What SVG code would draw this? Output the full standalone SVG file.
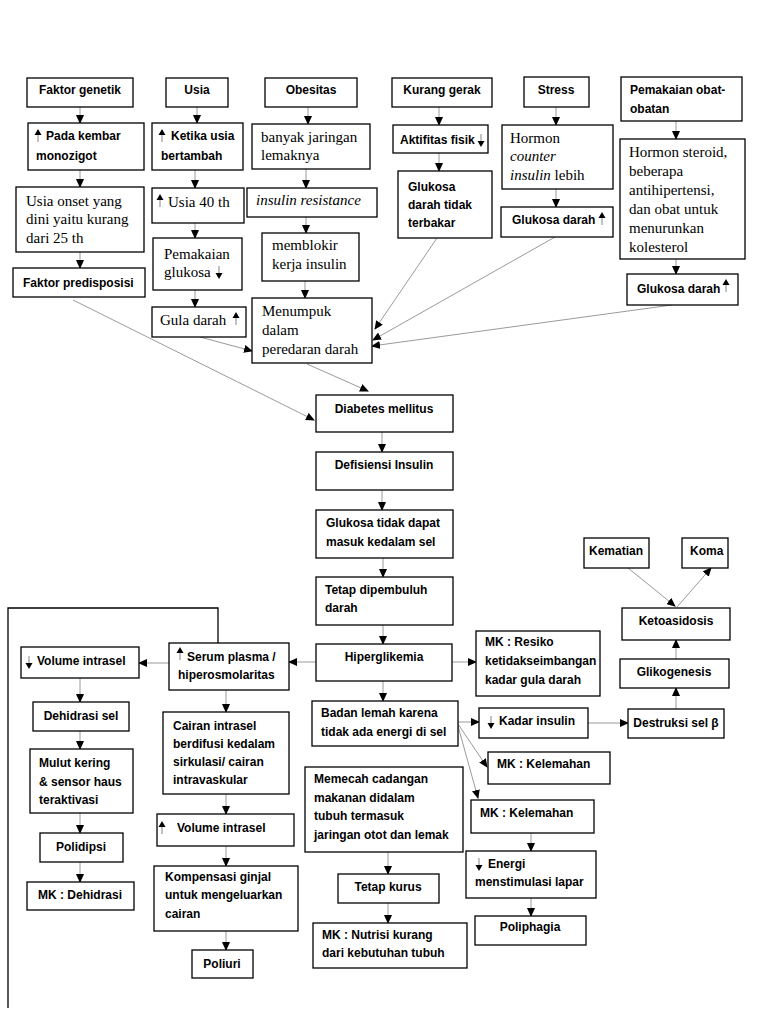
<svg xmlns="http://www.w3.org/2000/svg" xmlns:xlink="http://www.w3.org/1999/xlink" width="768" height="1024" viewBox="0 0 768 1024">
<style>
.box{fill:#fff;stroke:#000;stroke-width:1.3}
.b{font-family:"Liberation Sans",Arial,sans-serif;font-weight:bold;font-size:12px;fill:#000}
.s{font-family:"Liberation Serif","Times New Roman",serif;font-size:15px;fill:#000}
.i{font-style:italic}
.m{text-anchor:middle}
.c{stroke:#9a9a9a;stroke-width:1;fill:none;marker-end:url(#ah)}
</style>
<defs>
<marker id="ah" markerUnits="userSpaceOnUse" markerWidth="9" markerHeight="8" refX="8" refY="4" orient="auto"><path d="M0,0 L9,4 L0,8 Z" fill="#000"/></marker>
<g id="up"><line x1="0" y1="5" x2="0" y2="13" stroke="#999" stroke-width="1.2"/><path d="M-3.5,6 L0,0 L3.5,6 Z" fill="#000"/></g>
<g id="dn"><line x1="0" y1="0" x2="0" y2="8" stroke="#999" stroke-width="1.2"/><path d="M-3.5,7 L3.5,7 L0,13 Z" fill="#000"/></g>
</defs>
<rect width="768" height="1024" fill="#fff"/>

<g id="connectors">
<line class="c" x1="80" y1="107" x2="80" y2="123"/>
<line class="c" x1="80" y1="170" x2="80" y2="187"/>
<line class="c" x1="80" y1="252" x2="80" y2="268"/>
<line class="c" x1="73" y1="300" x2="314" y2="420"/>
<line class="c" x1="197" y1="107" x2="197" y2="123"/>
<line class="c" x1="195" y1="170" x2="195" y2="188"/>
<line class="c" x1="195" y1="223" x2="195" y2="238"/>
<line class="c" x1="195" y1="290" x2="195" y2="307"/>
<line class="c" x1="200" y1="337" x2="252" y2="351"/>
<line class="c" x1="308" y1="107" x2="308" y2="124"/>
<line class="c" x1="306" y1="169" x2="306" y2="188"/>
<line class="c" x1="306" y1="217" x2="306" y2="233"/>
<line class="c" x1="305" y1="281" x2="305" y2="298"/>
<line class="c" x1="439" y1="107" x2="439" y2="125"/>
<line class="c" x1="439" y1="153" x2="439" y2="171"/>
<line class="c" x1="437" y1="238" x2="375" y2="329"/>
<line class="c" x1="556" y1="107" x2="556" y2="125"/>
<line class="c" x1="556" y1="189" x2="556" y2="207"/>
<line class="c" x1="555" y1="237" x2="373" y2="340"/>
<line class="c" x1="676" y1="121" x2="676" y2="139"/>
<line class="c" x1="676" y1="259" x2="676" y2="274"/>
<line class="c" x1="672" y1="305" x2="372" y2="346"/>
<line class="c" x1="307" y1="364" x2="368" y2="391"/>
<line class="c" x1="382" y1="432" x2="382" y2="452"/>
<line class="c" x1="382" y1="490" x2="382" y2="510"/>
<line class="c" x1="383" y1="558" x2="383" y2="577"/>
<line class="c" x1="383" y1="625" x2="383" y2="644"/>
<line class="c" x1="316" y1="662" x2="289" y2="662"/>
<line class="c" x1="452" y1="662" x2="476" y2="662"/>
<line class="c" x1="383" y1="681" x2="383" y2="701"/>
<line class="c" x1="169" y1="663" x2="139" y2="663"/>
<line class="c" x1="226" y1="690" x2="226" y2="712"/>
<line class="c" x1="226" y1="794" x2="226" y2="814"/>
<line class="c" x1="226" y1="846" x2="226" y2="866"/>
<line class="c" x1="226" y1="931" x2="226" y2="950"/>
<line class="c" x1="80" y1="678" x2="80" y2="702"/>
<line class="c" x1="80" y1="731" x2="80" y2="749"/>
<line class="c" x1="80" y1="813" x2="80" y2="833"/>
<line class="c" x1="80" y1="862" x2="80" y2="882"/>
<line class="c" x1="458" y1="722" x2="479" y2="722"/>
<line class="c" x1="458" y1="724" x2="487" y2="767"/>
<line class="c" x1="458" y1="726" x2="478" y2="798"/>
<line class="c" x1="531" y1="833" x2="531" y2="851"/>
<line class="c" x1="531" y1="898" x2="531" y2="916"/>
<line class="c" x1="388" y1="852" x2="388" y2="874"/>
<line class="c" x1="388" y1="903" x2="388" y2="923"/>
<line class="c" x1="588" y1="723" x2="628" y2="723"/>
<line class="c" x1="676" y1="709" x2="676" y2="688"/>
<line class="c" x1="676" y1="659" x2="676" y2="640"/>
<line class="c" x1="628" y1="568" x2="675" y2="606"/>
<line class="c" x1="677" y1="607" x2="711" y2="568"/>
<polyline points="218,643 218,608 8,608 8,1008" fill="none" stroke="#000" stroke-width="1.3"/>
</g>

<g id="n-faktor-genetik"><rect class="box" x="27" y="78" width="106" height="29"/><text class="b m" x="80" y="94">Faktor genetik</text></g>
<g id="n-usia"><rect class="box" x="166" y="78" width="62" height="29"/><text class="b m" x="197" y="94">Usia</text></g>
<g id="n-obesitas"><rect class="box" x="265" y="78" width="92" height="29"/><text class="b m" x="311" y="94">Obesitas</text></g>
<g id="n-kurang-gerak"><rect class="box" x="392" y="78" width="100" height="29"/><text class="b m" x="442" y="94">Kurang gerak</text></g>
<g id="n-stress"><rect class="box" x="524" y="77" width="65" height="30"/><text class="b m" x="556" y="94">Stress</text></g>
<g id="n-obat"><rect class="box" x="621" y="77" width="121" height="44"/><text class="b" x="630" y="94">Pemakaian obat-</text><text class="b" x="630" y="113">obatan</text></g>

<g id="n-kembar"><rect class="box" x="28" y="123" width="116" height="47"/><use xlink:href="#up" x="38" y="129"/><text class="b" x="46" y="140">Pada kembar</text><text class="b" x="36" y="160">monozigot</text></g>
<g id="n-ketika"><rect class="box" x="152" y="123" width="91" height="47"/><use xlink:href="#up" x="162" y="129"/><text class="b" x="171" y="140">Ketika usia</text><text class="b" x="161" y="160">bertambah</text></g>
<g id="n-jaringan"><rect class="box" x="252" y="124" width="118" height="45"/><text class="s" x="261" y="142">banyak jaringan</text><text class="s" x="261" y="160">lemaknya</text></g>
<g id="n-aktifitas"><rect class="box" x="393" y="125" width="95" height="28"/><text class="b" x="400" y="144">Aktifitas fisik</text><use xlink:href="#dn" x="481" y="134"/></g>
<g id="n-hormon-counter"><rect class="box" x="502" y="125" width="111" height="64"/><text class="s" x="510" y="143">Hormon</text><text class="s i" x="510" y="161">counter</text><text class="s" x="510" y="180"><tspan class="i">insulin</tspan> lebih</text></g>
<g id="n-steroid"><rect class="box" x="620" y="139" width="125" height="120"/><text class="s" x="629" y="157">Hormon steroid,</text><text class="s" x="629" y="176">beberapa</text><text class="s" x="629" y="195">antihipertensi,</text><text class="s" x="629" y="214">dan obat untuk</text><text class="s" x="629" y="233">menurunkan</text><text class="s" x="629" y="252">kolesterol</text></g>

<g id="n-onset"><rect class="box" x="16" y="187" width="128" height="65"/><text class="s" x="26" y="206">Usia onset yang</text><text class="s" x="26" y="224">dini yaitu kurang</text><text class="s" x="26" y="243">dari 25 th</text></g>
<g id="n-usia40"><rect class="box" x="152" y="188" width="92" height="35"/><use xlink:href="#up" x="160" y="194"/><text class="s" x="168" y="207">Usia 40 th</text></g>
<g id="n-resistance"><rect class="box" x="247" y="188" width="130" height="29"/><text class="s i" x="256" y="205">insulin resistance</text></g>
<g id="n-tidak-terbakar"><rect class="box" x="398" y="171" width="94" height="67"/><text class="b" x="408" y="191">Glukosa</text><text class="b" x="408" y="209">darah tidak</text><text class="b" x="408" y="227">terbakar</text></g>
<g id="n-glukosa-stress"><rect class="box" x="501" y="207" width="112" height="30"/><text class="b" x="512" y="224">Glukosa darah</text><use xlink:href="#up" x="602" y="212"/></g>
<g id="n-glukosa-obat"><rect class="box" x="627" y="274" width="111" height="31"/><text class="b" x="637" y="293">Glukosa darah</text><use xlink:href="#up" x="726" y="279"/></g>

<g id="n-predisposisi"><rect class="box" x="13" y="268" width="132" height="29"/><text class="b" x="23" y="287">Faktor predisposisi</text></g>
<g id="n-pemakaian-glukosa"><rect class="box" x="153" y="238" width="89" height="52"/><text class="s" x="164" y="259">Pemakaian</text><text class="s" x="164" y="277">glukosa</text><use xlink:href="#dn" x="219" y="266"/></g>
<g id="n-memblokir"><rect class="box" x="262" y="233" width="97" height="48"/><text class="s" x="272" y="250">memblokir</text><text class="s" x="272" y="269">kerja insulin</text></g>
<g id="n-gula-darah"><rect class="box" x="152" y="307" width="94" height="30"/><text class="s" x="160" y="325">Gula darah</text><use xlink:href="#up" x="236" y="312"/></g>
<g id="n-menumpuk"><rect class="box" x="252" y="298" width="120" height="65"/><text class="s" x="262" y="316">Menumpuk</text><text class="s" x="262" y="335">dalam</text><text class="s" x="262" y="354">peredaran darah</text></g>

<g id="n-diabetes"><rect class="box" x="316" y="395" width="137" height="37"/><text class="b m" x="384" y="413">Diabetes mellitus</text></g>
<g id="n-defisiensi"><rect class="box" x="316" y="452" width="137" height="38"/><text class="b m" x="384" y="469">Defisiensi Insulin</text></g>
<g id="n-glukosa-tidak"><rect class="box" x="316" y="510" width="137" height="48"/><text class="b" x="326" y="527">Glukosa tidak dapat</text><text class="b" x="326" y="546">masuk kedalam sel</text></g>
<g id="n-tetap-pembuluh"><rect class="box" x="316" y="577" width="137" height="48"/><text class="b" x="325" y="594">Tetap dipembuluh</text><text class="b" x="325" y="612">darah</text></g>
<g id="n-hiperglikemia"><rect class="box" x="316" y="644" width="136" height="37"/><text class="b m" x="384" y="661">Hiperglikemia</text></g>
<g id="n-serum"><rect class="box" x="169" y="643" width="120" height="47"/><use xlink:href="#up" x="180" y="647"/><text class="b" x="187" y="661">Serum plasma /</text><text class="b" x="178" y="679">hiperosmolaritas</text></g>
<g id="n-mk-resiko"><rect class="box" x="476" y="631" width="124" height="65"/><text class="b" x="485" y="646">MK : Resiko</text><text class="b" x="485" y="665">ketidakseimbangan</text><text class="b" x="485" y="684">kadar gula darah</text></g>
<g id="n-badan-lemah"><rect class="box" x="312" y="701" width="146" height="45"/><text class="b" x="321" y="717">Badan lemah karena</text><text class="b" x="321" y="736">tidak ada energi di sel</text></g>
<g id="n-kadar-insulin"><rect class="box" x="479" y="708" width="109" height="30"/><use xlink:href="#dn" x="491" y="716"/><text class="b" x="499" y="725">Kadar insulin</text></g>
<g id="n-kelemahan1"><rect class="box" x="488" y="752" width="122" height="32"/><text class="b" x="497" y="768">MK : Kelemahan</text></g>
<g id="n-kelemahan2"><rect class="box" x="471" y="800" width="123" height="33"/><text class="b" x="480" y="817">MK : Kelemahan</text></g>
<g id="n-memecah"><rect class="box" x="305" y="767" width="158" height="85"/><text class="b" x="314" y="783">Memecah cadangan</text><text class="b" x="314" y="802">makanan didalam</text><text class="b" x="314" y="820">tubuh termasuk</text><text class="b" x="314" y="839">jaringan otot dan lemak</text></g>
<g id="n-energi"><rect class="box" x="466" y="851" width="130" height="47"/><use xlink:href="#dn" x="479" y="858"/><text class="b" x="488" y="868">Energi</text><text class="b" x="475" y="886">menstimulasi lapar</text></g>
<g id="n-tetap-kurus"><rect class="box" x="338" y="874" width="101" height="29"/><text class="b m" x="388" y="891">Tetap kurus</text></g>
<g id="n-poliphagia"><rect class="box" x="475" y="916" width="111" height="29"/><text class="b m" x="530" y="931">Poliphagia</text></g>
<g id="n-mk-nutrisi"><rect class="box" x="313" y="923" width="154" height="45"/><text class="b" x="322" y="939">MK : Nutrisi kurang</text><text class="b" x="322" y="957">dari kebutuhan tubuh</text></g>

<g id="n-kematian"><rect class="box" x="584" y="538" width="65" height="30"/><text class="b m" x="616" y="555">Kematian</text></g>
<g id="n-koma"><rect class="box" x="682" y="538" width="46" height="30"/><text class="b" x="690" y="555">Koma</text></g>
<g id="n-ketoasidosis"><rect class="box" x="622" y="608" width="108" height="32"/><text class="b m" x="676" y="625">Ketoasidosis</text></g>
<g id="n-glikogenesis"><rect class="box" x="620" y="659" width="109" height="29"/><text class="b m" x="674" y="676">Glikogenesis</text></g>
<g id="n-destruksi"><rect class="box" x="628" y="709" width="96" height="29"/><text class="b m" x="676" y="727">Destruksi sel β</text></g>

<g id="n-volume-turun"><rect class="box" x="21" y="647" width="118" height="31"/><use xlink:href="#dn" x="29" y="656"/><text class="b" x="37" y="665">Volume intrasel</text></g>
<g id="n-dehidrasi-sel"><rect class="box" x="33" y="702" width="96" height="29"/><text class="b m" x="81" y="720">Dehidrasi sel</text></g>
<g id="n-mulut"><rect class="box" x="30" y="749" width="103" height="64"/><text class="b" x="39" y="767">Mulut kering</text><text class="b" x="39" y="786">&amp; sensor haus</text><text class="b" x="39" y="804">teraktivasi</text></g>
<g id="n-polidipsi"><rect class="box" x="40" y="833" width="83" height="29"/><text class="b m" x="81" y="851">Polidipsi</text></g>
<g id="n-mk-dehidrasi"><rect class="box" x="27" y="882" width="107" height="28"/><text class="b m" x="80" y="899">MK : Dehidrasi</text></g>
<g id="n-cairan"><rect class="box" x="163" y="712" width="126" height="82"/><text class="b" x="173" y="730">Cairan intrasel</text><text class="b" x="173" y="748">berdifusi kedalam</text><text class="b" x="173" y="766">sirkulasi/ cairan</text><text class="b" x="173" y="784">intravaskular</text></g>
<g id="n-volume-naik"><rect class="box" x="157" y="814" width="137" height="32"/><use xlink:href="#up" x="162" y="821"/><text class="b" x="177" y="832">Volume intrasel</text></g>
<g id="n-kompensasi"><rect class="box" x="154" y="866" width="144" height="65"/><text class="b" x="165" y="881">Kompensasi ginjal</text><text class="b" x="165" y="899">untuk mengeluarkan</text><text class="b" x="165" y="918">cairan</text></g>
<g id="n-poliuri"><rect class="box" x="192" y="950" width="61" height="28"/><text class="b m" x="222" y="968">Poliuri</text></g>
</svg>
